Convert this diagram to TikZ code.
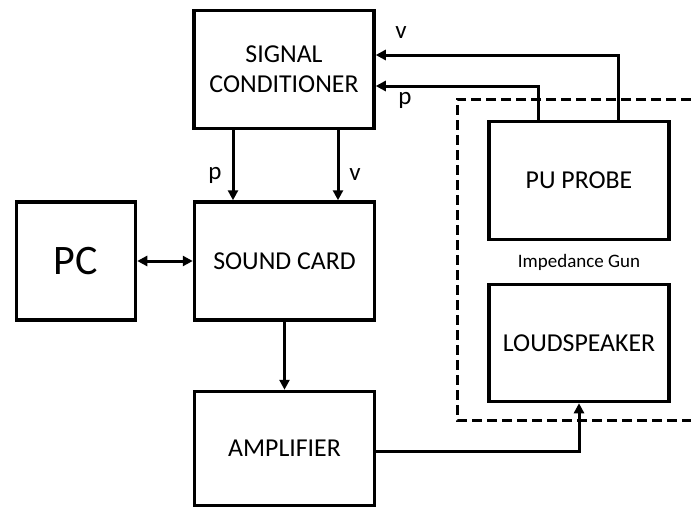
\documentclass[tikz,border=0pt]{standalone}
\usepackage{fontspec}
\setmainfont{Carlito}
\usetikzlibrary{arrows.meta}
\begin{document}
\begin{tikzpicture}[x=1pt,y=-1pt,
  blk/.style={draw,line width=3.5pt,minimum width=180pt,minimum height=118pt,align=center,inner sep=0pt,font=\fontsize{25.8}{30}\selectfont},
  conn/.style={line width=3pt,-{Triangle[length=10pt,width=10pt]}},
  lbl/.style={font=\fontsize{25}{28}\selectfont,inner sep=0pt},
  gun/.style={dashed,line width=3pt,dash pattern=on 10pt off 5pt}]
\useasboundingbox (0,0) rectangle (691,512);
\node[blk] (sc) at (284,69.5) {SIGNAL\\CONDITIONER};
\node[blk] (snd) at (284.5,261) {SOUND CARD};
\node[blk,minimum width=119pt,font=\fontsize{42}{50}\selectfont] (pc) at (76,261) {PC};
\node[blk,minimum height=114pt] (amp) at (284.5,448.5) {AMPLIFIER};
\node[blk] (pu) at (579,180.5) {PU PROBE};
\node[blk,minimum height=117pt] (ls) at (579,343) {LOUDSPEAKER};
\node[font=\fontsize{19}{22}\selectfont] (ig) at (579,262) {Impedance Gun};
\draw[gun] (691,99) -- (457,99) -- (457,420) -- (691,420);
\coordinate (pcol) at (538,86);
\coordinate (vcol) at (618,55);
\draw[conn] (pu.north -| pcol) |- (sc.east |- pcol);
\draw[conn] (pu.north -| vcol) |- (sc.east |- vcol);
\coordinate (pdn) at (233,0);
\coordinate (vdn) at (338,0);
\draw[conn] (sc.south -| pdn) -- (snd.north -| pdn);
\draw[conn] (sc.south -| vdn) -- (snd.north -| vdn);
\draw[line width=3pt,{Triangle[length=10pt,width=10pt]}-{Triangle[length=10pt,width=10pt]}] (pc.east) -- (snd.west);
\draw[conn] (snd.south) -- (amp.north);
\coordinate (ampout) at (376,451);
\draw[conn] (amp.east |- ampout) -| (ls.south);
\node[lbl] (lv) at (401,33) {v};
\node[lbl] (lp) at (405,100) {p};
\node[lbl] (lp2) at (215,175) {p};
\node[lbl] (lv2) at (355,175) {v};
\end{tikzpicture}
\end{document}
